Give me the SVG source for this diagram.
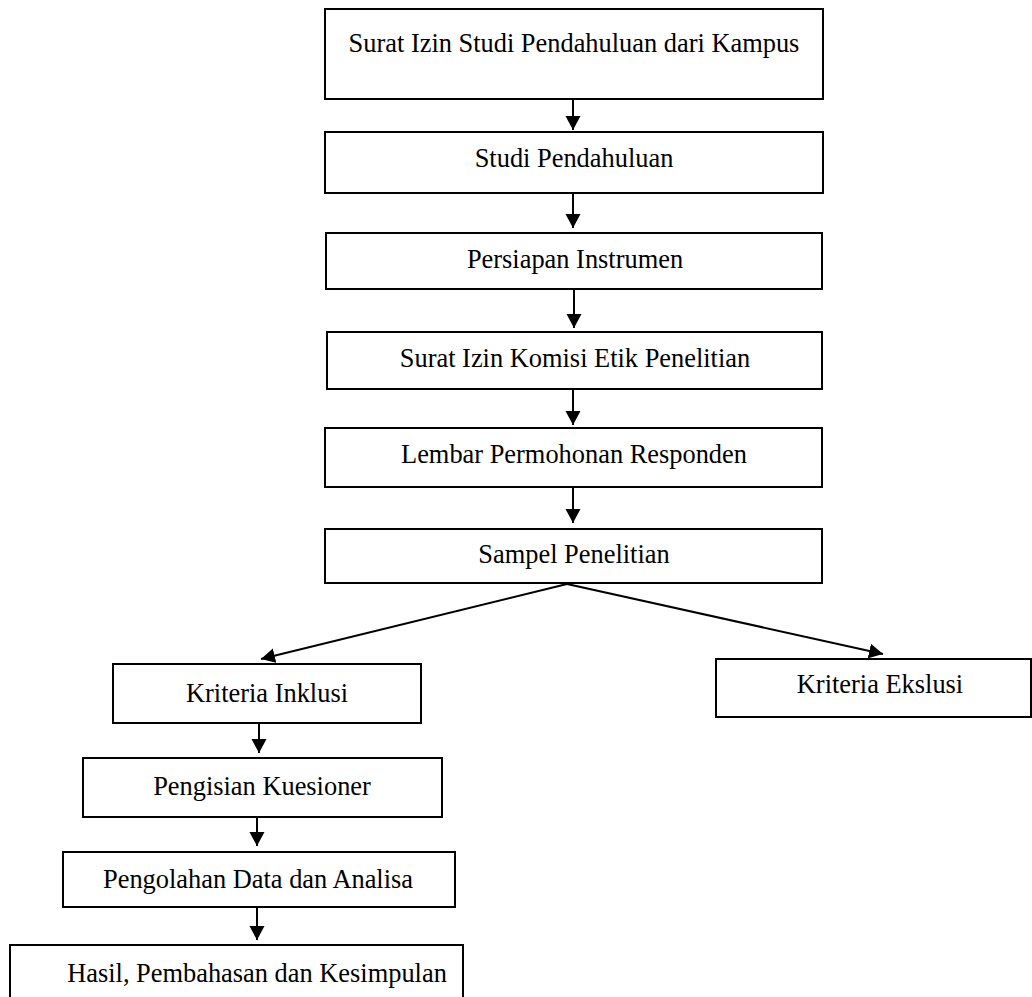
<svg xmlns="http://www.w3.org/2000/svg" width="1032" height="997" viewBox="0 0 1032 997">
<style>
.box{fill:#fff;stroke:#000;stroke-width:2}
.lbl{font-family:"Liberation Serif","Times New Roman",serif;font-size:26.4px;fill:#000;text-anchor:middle}
.con{stroke:#000;stroke-width:2;fill:none;marker-end:url(#ah)}
</style>
<defs>
<marker id="ah" markerUnits="userSpaceOnUse" viewBox="0 0 14 16" refX="14" refY="8" markerWidth="14" markerHeight="16" orient="auto">
<path d="M0,0.5 L14,8 L0,15.5 z" fill="#000"/>
</marker>
</defs>
<rect width="1032" height="997" fill="#fff"/>
<g id="connectors">
<line class="con" x1="573" y1="99" x2="573" y2="130"/>
<line class="con" x1="573" y1="193" x2="573" y2="228"/>
<line class="con" x1="574" y1="289" x2="574" y2="328"/>
<line class="con" x1="573" y1="389" x2="573" y2="425"/>
<line class="con" x1="573" y1="487" x2="573" y2="523"/>
<line class="con" x1="567" y1="584" x2="261" y2="659"/>
<line class="con" x1="567" y1="584" x2="883" y2="654"/>
<line class="con" x1="259" y1="723" x2="259" y2="753"/>
<line class="con" x1="257" y1="817" x2="257" y2="846"/>
<line class="con" x1="257" y1="907" x2="257" y2="940"/>
</g>
<g id="n1"><rect class="box" x="325" y="9" width="498" height="90"/><text class="lbl" x="574" y="52">Surat Izin Studi Pendahuluan dari Kampus</text></g>
<g id="n2"><rect class="box" x="325" y="132" width="498" height="61"/><text class="lbl" x="574" y="167">Studi Pendahuluan</text></g>
<g id="n3"><rect class="box" x="326" y="233" width="496" height="56"/><text class="lbl" x="575" y="268">Persiapan Instrumen</text></g>
<g id="n4"><rect class="box" x="327" y="332" width="495" height="57"/><text class="lbl" x="575" y="367">Surat Izin Komisi Etik Penelitian</text></g>
<g id="n5"><rect class="box" x="325" y="428" width="497" height="59"/><text class="lbl" x="574" y="463">Lembar Permohonan Responden</text></g>
<g id="n6"><rect class="box" x="325" y="529" width="497" height="54"/><text class="lbl" x="574" y="563">Sampel Penelitian</text></g>
<g id="n7"><rect class="box" x="113" y="664" width="308" height="59"/><text class="lbl" x="267" y="702">Kriteria Inklusi</text></g>
<g id="n8"><rect class="box" x="716" y="659" width="315" height="58"/><text class="lbl" x="880" y="693">Kriteria Ekslusi</text></g>
<g id="n9"><rect class="box" x="83" y="758" width="359" height="59"/><text class="lbl" x="262" y="795">Pengisian Kuesioner</text></g>
<g id="n10"><rect class="box" x="63" y="852" width="392" height="55"/><text class="lbl" x="258" y="888">Pengolahan Data dan Analisa</text></g>
<g id="n11"><rect class="box" x="10" y="945" width="453" height="60"/><text class="lbl" x="257" y="982">Hasil, Pembahasan dan Kesimpulan</text></g>
</svg>
